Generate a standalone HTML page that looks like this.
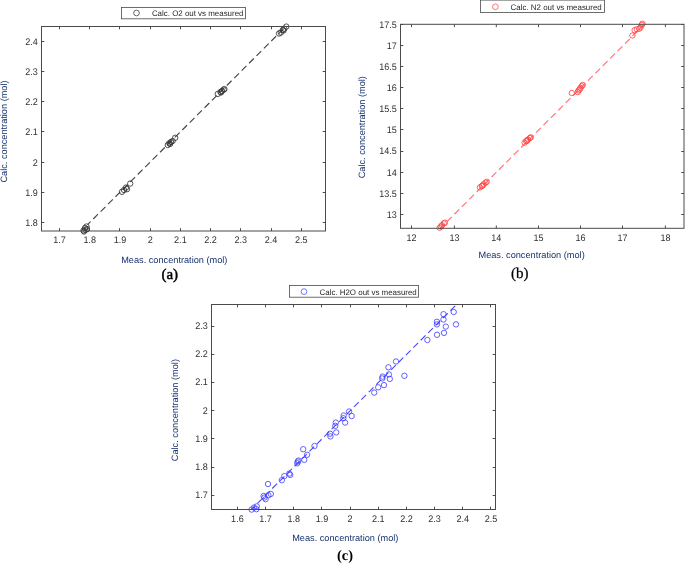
<!DOCTYPE html>
<html><head><meta charset="utf-8"><style>
html,body{margin:0;padding:0;background:#fff;}
svg{display:block;will-change:transform;}
text{font-family:"Liberation Sans",sans-serif;text-rendering:geometricPrecision;}
.tk{font-size:9.5px;fill:#303030;}
.lg{font-size:8px;fill:#262626;}
.lb{font-size:9.2px;fill:#15306e;}
.cap{font-family:"Liberation Serif",serif;font-size:14.5px;font-weight:bold;fill:#000;}
</style></head><body>
<svg width="685" height="563" viewBox="0 0 685 563">
<rect width="685" height="563" fill="#fff"/>
<line x1="87.60" y1="224.61" x2="286.30" y2="26.05" stroke="#454545" stroke-width="1.15" stroke-dasharray="6.75 3.74" stroke-dashoffset="2.52"/>
<circle cx="83.5" cy="230.5" r="2.7" fill="none" stroke="#333333" stroke-width="0.85"/>
<circle cx="85.0" cy="228.0" r="2.7" fill="none" stroke="#333333" stroke-width="0.85"/>
<circle cx="86.5" cy="226.5" r="2.7" fill="none" stroke="#333333" stroke-width="0.85"/>
<circle cx="84.0" cy="231.5" r="2.7" fill="none" stroke="#333333" stroke-width="0.85"/>
<circle cx="87.0" cy="229.0" r="2.7" fill="none" stroke="#333333" stroke-width="0.85"/>
<circle cx="85.5" cy="230.0" r="2.7" fill="none" stroke="#333333" stroke-width="0.85"/>
<circle cx="122" cy="191.8" r="2.7" fill="none" stroke="#333333" stroke-width="0.85"/>
<circle cx="126" cy="187.6" r="2.7" fill="none" stroke="#333333" stroke-width="0.85"/>
<circle cx="127" cy="189.2" r="2.7" fill="none" stroke="#333333" stroke-width="0.85"/>
<circle cx="130.2" cy="183.6" r="2.7" fill="none" stroke="#333333" stroke-width="0.85"/>
<circle cx="124" cy="190" r="2.7" fill="none" stroke="#333333" stroke-width="0.85"/>
<circle cx="167.8" cy="145" r="2.7" fill="none" stroke="#333333" stroke-width="0.85"/>
<circle cx="169.4" cy="143.1" r="2.7" fill="none" stroke="#333333" stroke-width="0.85"/>
<circle cx="171" cy="142" r="2.7" fill="none" stroke="#333333" stroke-width="0.85"/>
<circle cx="172.6" cy="141" r="2.7" fill="none" stroke="#333333" stroke-width="0.85"/>
<circle cx="175.2" cy="137.8" r="2.7" fill="none" stroke="#333333" stroke-width="0.85"/>
<circle cx="170" cy="144" r="2.7" fill="none" stroke="#333333" stroke-width="0.85"/>
<circle cx="217.8" cy="93.9" r="2.7" fill="none" stroke="#333333" stroke-width="0.85"/>
<circle cx="220.5" cy="92" r="2.7" fill="none" stroke="#333333" stroke-width="0.85"/>
<circle cx="222" cy="91" r="2.7" fill="none" stroke="#333333" stroke-width="0.85"/>
<circle cx="223.6" cy="89.7" r="2.7" fill="none" stroke="#333333" stroke-width="0.85"/>
<circle cx="224.4" cy="89.1" r="2.7" fill="none" stroke="#333333" stroke-width="0.85"/>
<circle cx="221" cy="92.5" r="2.7" fill="none" stroke="#333333" stroke-width="0.85"/>
<circle cx="279.0" cy="33.5" r="2.7" fill="none" stroke="#333333" stroke-width="0.85"/>
<circle cx="280.8" cy="32.6" r="2.7" fill="none" stroke="#333333" stroke-width="0.85"/>
<circle cx="282.9" cy="29.9" r="2.7" fill="none" stroke="#333333" stroke-width="0.85"/>
<circle cx="284.3" cy="28.7" r="2.7" fill="none" stroke="#333333" stroke-width="0.85"/>
<circle cx="286.3" cy="26.6" r="2.7" fill="none" stroke="#333333" stroke-width="0.85"/>
<circle cx="283.5" cy="30.5" r="2.7" fill="none" stroke="#333333" stroke-width="0.85"/>
<rect x="41.5" y="26.5" width="284.0" height="204.5" fill="none" stroke="#4a4a4a" stroke-width="1.0"/>
<path d="M59.5 231.0v-2.8M59.5 26.5v2.8M89.5 231.0v-2.8M89.5 26.5v2.8M119.5 231.0v-2.8M119.5 26.5v2.8M150.5 231.0v-2.8M150.5 26.5v2.8M180.5 231.0v-2.8M180.5 26.5v2.8M210.5 231.0v-2.8M210.5 26.5v2.8M240.5 231.0v-2.8M240.5 26.5v2.8M271.5 231.0v-2.8M271.5 26.5v2.8M301.5 231.0v-2.8M301.5 26.5v2.8M41.5 222.5h2.8M325.5 222.5h-2.8M41.5 192.5h2.8M325.5 192.5h-2.8M41.5 162.5h2.8M325.5 162.5h-2.8M41.5 131.5h2.8M325.5 131.5h-2.8M41.5 101.5h2.8M325.5 101.5h-2.8M41.5 71.5h2.8M325.5 71.5h-2.8M41.5 41.5h2.8M325.5 41.5h-2.8" stroke="#4a4a4a" stroke-width="1.0" fill="none"/>
<text transform="translate(59.50 243.30) scale(0.95 1)" text-anchor="middle" class="tk">1.7</text>
<text transform="translate(89.72 243.30) scale(0.95 1)" text-anchor="middle" class="tk">1.8</text>
<text transform="translate(119.94 243.30) scale(0.95 1)" text-anchor="middle" class="tk">1.9</text>
<text transform="translate(150.16 243.30) scale(0.95 1)" text-anchor="middle" class="tk">2</text>
<text transform="translate(180.38 243.30) scale(0.95 1)" text-anchor="middle" class="tk">2.1</text>
<text transform="translate(210.60 243.30) scale(0.95 1)" text-anchor="middle" class="tk">2.2</text>
<text transform="translate(240.82 243.30) scale(0.95 1)" text-anchor="middle" class="tk">2.3</text>
<text transform="translate(271.04 243.30) scale(0.95 1)" text-anchor="middle" class="tk">2.4</text>
<text transform="translate(301.26 243.30) scale(0.95 1)" text-anchor="middle" class="tk">2.5</text>
<text transform="translate(37.90 225.90) scale(0.95 1)" text-anchor="end" class="tk">1.8</text>
<text transform="translate(37.90 195.70) scale(0.95 1)" text-anchor="end" class="tk">1.9</text>
<text transform="translate(37.90 165.50) scale(0.95 1)" text-anchor="end" class="tk">2</text>
<text transform="translate(37.90 135.30) scale(0.95 1)" text-anchor="end" class="tk">2.1</text>
<text transform="translate(37.90 105.10) scale(0.95 1)" text-anchor="end" class="tk">2.2</text>
<text transform="translate(37.90 74.90) scale(0.95 1)" text-anchor="end" class="tk">2.3</text>
<text transform="translate(37.90 44.70) scale(0.95 1)" text-anchor="end" class="tk">2.4</text>
<rect x="121.5" y="7.5" width="124.0" height="11.3" fill="#fff" stroke="#4a4a4a" stroke-width="0.8"/>
<circle cx="136.5" cy="13" r="2.85" fill="none" stroke="#3a3a3a" stroke-width="0.75"/>
<text transform="translate(151.9 16.0) scale(0.99 1)" class="lg">Calc. O2 out vs measured</text>
<text x="174.3" y="262.6" text-anchor="middle" class="lb">Meas. concentration (mol)</text>
<text transform="translate(7.3 131.5) rotate(-90)" text-anchor="middle" class="lb">Calc. concentration (mol)</text>
<text x="169.8" y="279.2" text-anchor="middle" class="cap" style="font-weight:normal;font-size:15px;stroke:#000;stroke-width:0.45px">(a)</text>
<line x1="440.13" y1="228.52" x2="643.77" y2="24.92" stroke="#ff7070" stroke-width="1.1" stroke-dasharray="6.75 3.74" stroke-dashoffset="0.78"/>
<circle cx="439.6" cy="227.7" r="2.7" fill="none" stroke="#ff3c3c" stroke-width="0.8"/>
<circle cx="442" cy="225.2" r="2.7" fill="none" stroke="#ff3c3c" stroke-width="0.8"/>
<circle cx="443.8" cy="223.4" r="2.7" fill="none" stroke="#ff3c3c" stroke-width="0.8"/>
<circle cx="444.9" cy="222.7" r="2.7" fill="none" stroke="#ff3c3c" stroke-width="0.8"/>
<circle cx="441" cy="226.5" r="2.7" fill="none" stroke="#ff3c3c" stroke-width="0.8"/>
<circle cx="479.9" cy="187.4" r="2.7" fill="none" stroke="#ff3c3c" stroke-width="0.8"/>
<circle cx="481.8" cy="186.1" r="2.7" fill="none" stroke="#ff3c3c" stroke-width="0.8"/>
<circle cx="483.6" cy="184.3" r="2.7" fill="none" stroke="#ff3c3c" stroke-width="0.8"/>
<circle cx="485.5" cy="182.7" r="2.7" fill="none" stroke="#ff3c3c" stroke-width="0.8"/>
<circle cx="486.8" cy="181.8" r="2.7" fill="none" stroke="#ff3c3c" stroke-width="0.8"/>
<circle cx="482.5" cy="185.5" r="2.7" fill="none" stroke="#ff3c3c" stroke-width="0.8"/>
<circle cx="524.6" cy="142.7" r="2.7" fill="none" stroke="#ff3c3c" stroke-width="0.8"/>
<circle cx="526.2" cy="141.1" r="2.7" fill="none" stroke="#ff3c3c" stroke-width="0.8"/>
<circle cx="528" cy="139.6" r="2.7" fill="none" stroke="#ff3c3c" stroke-width="0.8"/>
<circle cx="529.9" cy="138" r="2.7" fill="none" stroke="#ff3c3c" stroke-width="0.8"/>
<circle cx="530.8" cy="137.3" r="2.7" fill="none" stroke="#ff3c3c" stroke-width="0.8"/>
<circle cx="527" cy="140.5" r="2.7" fill="none" stroke="#ff3c3c" stroke-width="0.8"/>
<circle cx="571.8" cy="93" r="2.7" fill="none" stroke="#ff3c3c" stroke-width="0.8"/>
<circle cx="577.7" cy="92.1" r="2.7" fill="none" stroke="#ff3c3c" stroke-width="0.8"/>
<circle cx="578.6" cy="90.5" r="2.7" fill="none" stroke="#ff3c3c" stroke-width="0.8"/>
<circle cx="579.6" cy="89.3" r="2.7" fill="none" stroke="#ff3c3c" stroke-width="0.8"/>
<circle cx="580.5" cy="88" r="2.7" fill="none" stroke="#ff3c3c" stroke-width="0.8"/>
<circle cx="581.7" cy="86.2" r="2.7" fill="none" stroke="#ff3c3c" stroke-width="0.8"/>
<circle cx="582.7" cy="84.9" r="2.7" fill="none" stroke="#ff3c3c" stroke-width="0.8"/>
<circle cx="632.4" cy="35.5" r="2.7" fill="none" stroke="#ff3c3c" stroke-width="0.8"/>
<circle cx="634.6" cy="30.2" r="2.7" fill="none" stroke="#ff3c3c" stroke-width="0.8"/>
<circle cx="636.8" cy="29.3" r="2.7" fill="none" stroke="#ff3c3c" stroke-width="0.8"/>
<circle cx="639.3" cy="28.7" r="2.7" fill="none" stroke="#ff3c3c" stroke-width="0.8"/>
<circle cx="640.5" cy="27.4" r="2.7" fill="none" stroke="#ff3c3c" stroke-width="0.8"/>
<circle cx="641.8" cy="24.9" r="2.7" fill="none" stroke="#ff3c3c" stroke-width="0.8"/>
<circle cx="642.4" cy="23.7" r="2.7" fill="none" stroke="#ff3c3c" stroke-width="0.8"/>
<rect x="400.5" y="24.3" width="283.5" height="204.0" fill="none" stroke="#4a4a4a" stroke-width="1.0"/>
<path d="M411.5 228.3v-2.8M411.5 24.3v2.8M454.4 228.3v-2.8M454.4 24.3v2.8M496.3 228.3v-2.8M496.3 24.3v2.8M538.5 228.3v-2.8M538.5 24.3v2.8M580.5 228.3v-2.8M580.5 24.3v2.8M622.5 228.3v-2.8M622.5 24.3v2.8M665.4 228.3v-2.8M665.4 24.3v2.8M400.5 214.5h2.8M684.0 214.5h-2.8M400.5 193.5h2.8M684.0 193.5h-2.8M400.5 172.5h2.8M684.0 172.5h-2.8M400.5 151.5h2.8M684.0 151.5h-2.8M400.5 129.5h2.8M684.0 129.5h-2.8M400.5 108.5h2.8M684.0 108.5h-2.8M400.5 87.5h2.8M684.0 87.5h-2.8M400.5 66.5h2.8M684.0 66.5h-2.8M400.5 45.5h2.8M684.0 45.5h-2.8M400.5 24.5h2.8M684.0 24.5h-2.8" stroke="#4a4a4a" stroke-width="1.0" fill="none"/>
<text transform="translate(411.50 241.00) scale(0.95 1)" text-anchor="middle" class="tk">12</text>
<text transform="translate(454.40 241.00) scale(0.95 1)" text-anchor="middle" class="tk">13</text>
<text transform="translate(496.30 241.00) scale(0.95 1)" text-anchor="middle" class="tk">14</text>
<text transform="translate(538.50 241.00) scale(0.95 1)" text-anchor="middle" class="tk">15</text>
<text transform="translate(580.50 241.00) scale(0.95 1)" text-anchor="middle" class="tk">16</text>
<text transform="translate(622.50 241.00) scale(0.95 1)" text-anchor="middle" class="tk">17</text>
<text transform="translate(665.40 241.00) scale(0.95 1)" text-anchor="middle" class="tk">18</text>
<text transform="translate(396.90 217.80) scale(0.95 1)" text-anchor="end" class="tk">13</text>
<text transform="translate(396.90 196.68) scale(0.95 1)" text-anchor="end" class="tk">13.5</text>
<text transform="translate(396.90 175.56) scale(0.95 1)" text-anchor="end" class="tk">14</text>
<text transform="translate(396.90 154.44) scale(0.95 1)" text-anchor="end" class="tk">14.5</text>
<text transform="translate(396.90 133.32) scale(0.95 1)" text-anchor="end" class="tk">15</text>
<text transform="translate(396.90 112.20) scale(0.95 1)" text-anchor="end" class="tk">15.5</text>
<text transform="translate(396.90 91.08) scale(0.95 1)" text-anchor="end" class="tk">16</text>
<text transform="translate(396.90 69.96) scale(0.95 1)" text-anchor="end" class="tk">16.5</text>
<text transform="translate(396.90 48.84) scale(0.95 1)" text-anchor="end" class="tk">17</text>
<text transform="translate(396.90 27.72) scale(0.95 1)" text-anchor="end" class="tk">17.5</text>
<rect x="480.5" y="0.1" width="124.0" height="12.4" fill="#fff" stroke="#4a4a4a" stroke-width="0.8"/>
<circle cx="495.4" cy="6.8" r="2.85" fill="none" stroke="#ff4a4a" stroke-width="0.75"/>
<text transform="translate(510.6 10.0) scale(0.99 1)" class="lg">Calc. N2 out vs measured</text>
<text x="531.6" y="257.8" text-anchor="middle" class="lb">Meas. concentration (mol)</text>
<text transform="translate(364.7 127.2) rotate(-90)" text-anchor="middle" class="lb">Calc. concentration (mol)</text>
<text x="519.7" y="278.2" text-anchor="middle" class="cap" style="font-weight:normal;font-size:15px;stroke:#000;stroke-width:0.25px">(b)</text>
<line x1="251.48" y1="509.26" x2="456.56" y2="304.48" stroke="#4848ff" stroke-width="1.1" stroke-dasharray="6.75 3.74" stroke-dashoffset="2.08"/>
<circle cx="251.6" cy="509.6" r="2.7" fill="none" stroke="#3c3cff" stroke-width="0.8"/>
<circle cx="254" cy="507.5" r="2.7" fill="none" stroke="#3c3cff" stroke-width="0.8"/>
<circle cx="256.8" cy="506.4" r="2.7" fill="none" stroke="#3c3cff" stroke-width="0.8"/>
<circle cx="256.4" cy="509.2" r="2.7" fill="none" stroke="#3c3cff" stroke-width="0.8"/>
<circle cx="263.6" cy="496" r="2.7" fill="none" stroke="#3c3cff" stroke-width="0.8"/>
<circle cx="265.6" cy="499.2" r="2.7" fill="none" stroke="#3c3cff" stroke-width="0.8"/>
<circle cx="264.5" cy="497.5" r="2.7" fill="none" stroke="#3c3cff" stroke-width="0.8"/>
<circle cx="268" cy="484" r="2.7" fill="none" stroke="#3c3cff" stroke-width="0.8"/>
<circle cx="268.4" cy="495.2" r="2.7" fill="none" stroke="#3c3cff" stroke-width="0.8"/>
<circle cx="270.8" cy="494" r="2.7" fill="none" stroke="#3c3cff" stroke-width="0.8"/>
<circle cx="281.8" cy="480.2" r="2.7" fill="none" stroke="#3c3cff" stroke-width="0.8"/>
<circle cx="284.3" cy="476.1" r="2.7" fill="none" stroke="#3c3cff" stroke-width="0.8"/>
<circle cx="289.3" cy="473.6" r="2.7" fill="none" stroke="#3c3cff" stroke-width="0.8"/>
<circle cx="290.2" cy="474.9" r="2.7" fill="none" stroke="#3c3cff" stroke-width="0.8"/>
<circle cx="297.7" cy="461.6" r="2.7" fill="none" stroke="#3c3cff" stroke-width="0.8"/>
<circle cx="297.3" cy="463.3" r="2.7" fill="none" stroke="#3c3cff" stroke-width="0.8"/>
<circle cx="298.5" cy="460.5" r="2.7" fill="none" stroke="#3c3cff" stroke-width="0.8"/>
<circle cx="303.2" cy="449.2" r="2.7" fill="none" stroke="#3c3cff" stroke-width="0.8"/>
<circle cx="307.1" cy="454.8" r="2.7" fill="none" stroke="#3c3cff" stroke-width="0.8"/>
<circle cx="304.2" cy="459.8" r="2.7" fill="none" stroke="#3c3cff" stroke-width="0.8"/>
<circle cx="314.5" cy="446" r="2.7" fill="none" stroke="#3c3cff" stroke-width="0.8"/>
<circle cx="330" cy="433.7" r="2.7" fill="none" stroke="#3c3cff" stroke-width="0.8"/>
<circle cx="330.4" cy="436.4" r="2.7" fill="none" stroke="#3c3cff" stroke-width="0.8"/>
<circle cx="336.2" cy="432.4" r="2.7" fill="none" stroke="#3c3cff" stroke-width="0.8"/>
<circle cx="335.8" cy="422.6" r="2.7" fill="none" stroke="#3c3cff" stroke-width="0.8"/>
<circle cx="335.3" cy="425.8" r="2.7" fill="none" stroke="#3c3cff" stroke-width="0.8"/>
<circle cx="343.7" cy="415.5" r="2.7" fill="none" stroke="#3c3cff" stroke-width="0.8"/>
<circle cx="343.3" cy="418.2" r="2.7" fill="none" stroke="#3c3cff" stroke-width="0.8"/>
<circle cx="345.1" cy="422.6" r="2.7" fill="none" stroke="#3c3cff" stroke-width="0.8"/>
<circle cx="349.1" cy="411.5" r="2.7" fill="none" stroke="#3c3cff" stroke-width="0.8"/>
<circle cx="351.7" cy="416" r="2.7" fill="none" stroke="#3c3cff" stroke-width="0.8"/>
<circle cx="374.2" cy="392.6" r="2.7" fill="none" stroke="#3c3cff" stroke-width="0.8"/>
<circle cx="378.2" cy="387.3" r="2.7" fill="none" stroke="#3c3cff" stroke-width="0.8"/>
<circle cx="384" cy="385.1" r="2.7" fill="none" stroke="#3c3cff" stroke-width="0.8"/>
<circle cx="382.6" cy="376.6" r="2.7" fill="none" stroke="#3c3cff" stroke-width="0.8"/>
<circle cx="382.2" cy="378.4" r="2.7" fill="none" stroke="#3c3cff" stroke-width="0.8"/>
<circle cx="388.9" cy="374.4" r="2.7" fill="none" stroke="#3c3cff" stroke-width="0.8"/>
<circle cx="389.8" cy="378.9" r="2.7" fill="none" stroke="#3c3cff" stroke-width="0.8"/>
<circle cx="388.4" cy="367.3" r="2.7" fill="none" stroke="#3c3cff" stroke-width="0.8"/>
<circle cx="396" cy="361.5" r="2.7" fill="none" stroke="#3c3cff" stroke-width="0.8"/>
<circle cx="404.4" cy="375.8" r="2.7" fill="none" stroke="#3c3cff" stroke-width="0.8"/>
<circle cx="427.4" cy="340" r="2.7" fill="none" stroke="#3c3cff" stroke-width="0.8"/>
<circle cx="437" cy="334.8" r="2.7" fill="none" stroke="#3c3cff" stroke-width="0.8"/>
<circle cx="444" cy="332.9" r="2.7" fill="none" stroke="#3c3cff" stroke-width="0.8"/>
<circle cx="445.8" cy="326.6" r="2.7" fill="none" stroke="#3c3cff" stroke-width="0.8"/>
<circle cx="436.9" cy="321.8" r="2.7" fill="none" stroke="#3c3cff" stroke-width="0.8"/>
<circle cx="436.9" cy="324.4" r="2.7" fill="none" stroke="#3c3cff" stroke-width="0.8"/>
<circle cx="443.5" cy="319.5" r="2.7" fill="none" stroke="#3c3cff" stroke-width="0.8"/>
<circle cx="443.5" cy="314.2" r="2.7" fill="none" stroke="#3c3cff" stroke-width="0.8"/>
<circle cx="453.7" cy="312" r="2.7" fill="none" stroke="#3c3cff" stroke-width="0.8"/>
<circle cx="456" cy="324.4" r="2.7" fill="none" stroke="#3c3cff" stroke-width="0.8"/>
<rect x="211.5" y="304.5" width="284.0" height="205.0" fill="none" stroke="#4a4a4a" stroke-width="1.0"/>
<path d="M237.5 509.5v-2.8M237.5 304.5v2.8M265.5 509.5v-2.8M265.5 304.5v2.8M293.5 509.5v-2.8M293.5 304.5v2.8M321.5 509.5v-2.8M321.5 304.5v2.8M350.5 509.5v-2.8M350.5 304.5v2.8M378.5 509.5v-2.8M378.5 304.5v2.8M406.5 509.5v-2.8M406.5 304.5v2.8M434.5 509.5v-2.8M434.5 304.5v2.8M462.5 509.5v-2.8M462.5 304.5v2.8M490.5 509.5v-2.8M490.5 304.5v2.8M211.5 495.5h2.8M495.5 495.5h-2.8M211.5 467.5h2.8M495.5 467.5h-2.8M211.5 438.5h2.8M495.5 438.5h-2.8M211.5 410.5h2.8M495.5 410.5h-2.8M211.5 382.5h2.8M495.5 382.5h-2.8M211.5 354.5h2.8M495.5 354.5h-2.8M211.5 326.5h2.8M495.5 326.5h-2.8" stroke="#4a4a4a" stroke-width="1.0" fill="none"/>
<text transform="translate(237.40 521.90) scale(0.95 1)" text-anchor="middle" class="tk">1.6</text>
<text transform="translate(265.57 521.90) scale(0.95 1)" text-anchor="middle" class="tk">1.7</text>
<text transform="translate(293.74 521.90) scale(0.95 1)" text-anchor="middle" class="tk">1.8</text>
<text transform="translate(321.91 521.90) scale(0.95 1)" text-anchor="middle" class="tk">1.9</text>
<text transform="translate(350.08 521.90) scale(0.95 1)" text-anchor="middle" class="tk">2</text>
<text transform="translate(378.25 521.90) scale(0.95 1)" text-anchor="middle" class="tk">2.1</text>
<text transform="translate(406.42 521.90) scale(0.95 1)" text-anchor="middle" class="tk">2.2</text>
<text transform="translate(434.59 521.90) scale(0.95 1)" text-anchor="middle" class="tk">2.3</text>
<text transform="translate(462.76 521.90) scale(0.95 1)" text-anchor="middle" class="tk">2.4</text>
<text transform="translate(490.93 521.90) scale(0.95 1)" text-anchor="middle" class="tk">2.5</text>
<text transform="translate(207.90 497.90) scale(0.95 1)" text-anchor="end" class="tk">1.7</text>
<text transform="translate(207.90 469.77) scale(0.95 1)" text-anchor="end" class="tk">1.8</text>
<text transform="translate(207.90 441.64) scale(0.95 1)" text-anchor="end" class="tk">1.9</text>
<text transform="translate(207.90 413.51) scale(0.95 1)" text-anchor="end" class="tk">2</text>
<text transform="translate(207.90 385.38) scale(0.95 1)" text-anchor="end" class="tk">2.1</text>
<text transform="translate(207.90 357.25) scale(0.95 1)" text-anchor="end" class="tk">2.2</text>
<text transform="translate(207.90 329.12) scale(0.95 1)" text-anchor="end" class="tk">2.3</text>
<rect x="289.5" y="285.5" width="129.0" height="11.699999999999989" fill="#fff" stroke="#4a4a4a" stroke-width="0.8"/>
<circle cx="304" cy="291.6" r="2.85" fill="none" stroke="#4a4aff" stroke-width="0.75"/>
<text transform="translate(319.5 294.9) scale(0.99 1)" class="lg">Calc. H2O out vs measured</text>
<text x="345.3" y="540.8" text-anchor="middle" class="lb">Meas. concentration (mol)</text>
<text transform="translate(177.9 410.1) rotate(-90)" text-anchor="middle" class="lb">Calc. concentration (mol)</text>
<text x="345" y="559.6" text-anchor="middle" class="cap">(c)</text>
</svg>
</body></html>
